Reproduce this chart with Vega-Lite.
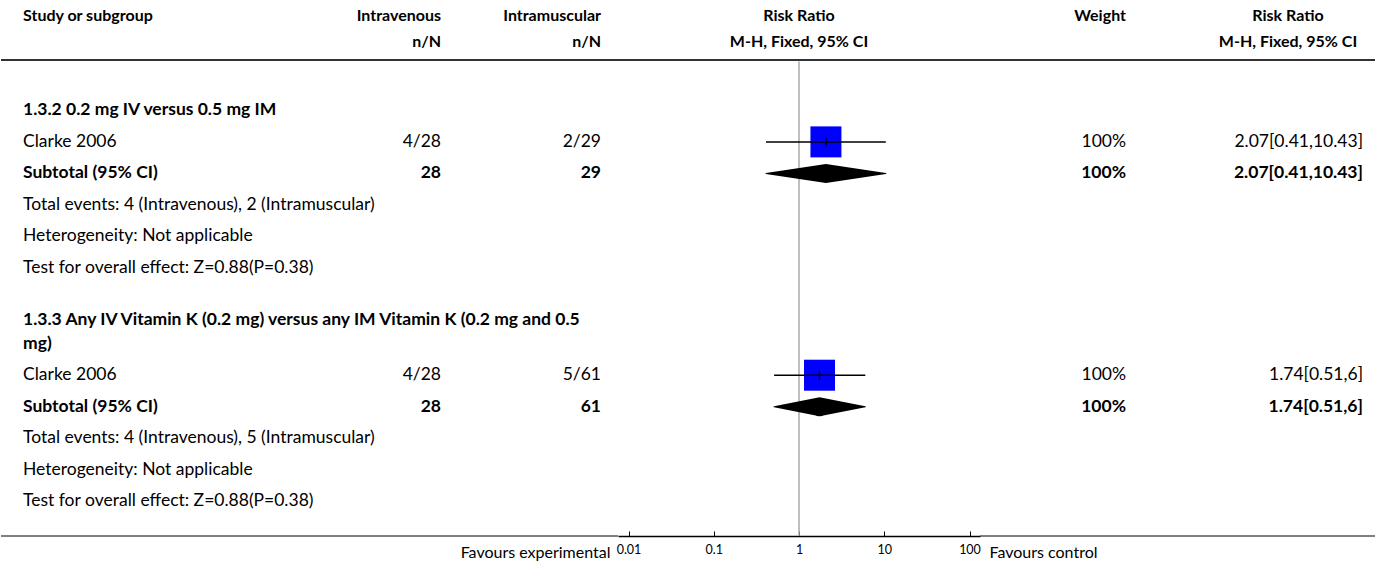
{
  "$schema": "https://vega.github.io/schema/vega-lite/v6.json",
  "padding": 0,
  "background": "white",
  "bounds": "flush",
  "spacing": 0,
  "config": {
    "view": {"stroke": null},
    "font": "Lato",
    "text": {"font": "Lato", "fontSize": 17.5, "color": "#000"}
  },
  "datasets": {
    "one": [{"id": 1}],
    "headers": [
      {"col": "study", "row": 0, "text": "Study or subgroup"},
      {"col": "iv", "row": 0, "text": "Intravenous\nn/N"},
      {"col": "im", "row": 0, "text": "Intramuscular\nn/N"},
      {"col": "plot", "row": 0, "text": "Risk Ratio\nM-H, Fixed, 95% CI"},
      {"col": "weight", "row": 0, "text": "Weight"},
      {"col": "ci", "row": 0, "text": "Risk Ratio\nM-H, Fixed, 95% CI"}
    ],
    "favours": [
      {"side": "left", "label": "Favours experimental"},
      {"side": "right", "label": "Favours control"}
    ],
    "rows": [
      {"row": 3, "kind": "group", "study": "1.3.2 0.2 mg IV versus 0.5 mg IM"},
      {"row": 4, "kind": "study", "study": "Clarke 2006", "iv": "4/28", "im": "2/29", "weight": "100%", "ci": "2.07[0.41,10.43]", "rr": 2.07, "lo": 0.41, "hi": 10.43},
      {"row": 5, "kind": "subtotal", "study": "Subtotal (95% CI)", "iv": "28", "im": "29", "weight": "100%", "ci": "2.07[0.41,10.43]", "rr": 2.07, "lo": 0.41, "hi": 10.43},
      {"row": 6, "kind": "note", "study": "Total events: 4 (Intravenous), 2 (Intramuscular)"},
      {"row": 7, "kind": "note", "study": "Heterogeneity: Not applicable"},
      {"row": 8, "kind": "note", "study": "Test for overall effect: Z=0.88(P=0.38)"},
      {"row": 9.65, "kind": "group", "study": "1.3.3 Any IV Vitamin K (0.2 mg) versus any IM Vitamin K (0.2 mg and 0.5\nmg)"},
      {"row": 11.4, "kind": "study", "study": "Clarke 2006", "iv": "4/28", "im": "5/61", "weight": "100%", "ci": "1.74[0.51,6]", "rr": 1.74, "lo": 0.51, "hi": 6},
      {"row": 12.4, "kind": "subtotal", "study": "Subtotal (95% CI)", "iv": "28", "im": "61", "weight": "100%", "ci": "1.74[0.51,6]", "rr": 1.74, "lo": 0.51, "hi": 6},
      {"row": 13.4, "kind": "note", "study": "Total events: 4 (Intravenous), 5 (Intramuscular)"},
      {"row": 14.4, "kind": "note", "study": "Heterogeneity: Not applicable"},
      {"row": 15.4, "kind": "note", "study": "Test for overall effect: Z=0.88(P=0.38)"}
    ]
  },
  "hconcat": [
    {
      "width": 330, "height": 536,
      "layer": [
        {"data": {"name": "headers"}, "transform": [{"filter": "datum.col == 'study'"}],
         "mark": {"type": "text", "align": "left", "baseline": "middle", "fontWeight": "bold", "fontSize": 16, "dx": 22},
         "encoding": {"x": {"value": 0}, "y": {"field": "row", "type": "quantitative", "scale": {"domain": [-0.5, 16.5], "reverse": true, "nice": false, "zero": false}, "axis": null}, "text": {"field": "text"}}},
        {"data": {"name": "rows"}, "transform": [{"filter": "datum.kind == 'study' || datum.kind == 'note'"}],
         "mark": {"type": "text", "align": "left", "baseline": "middle", "dx": 22},
         "encoding": {"x": {"value": 0}, "y": {"field": "row", "type": "quantitative", "scale": {"domain": [-0.5, 16.5], "reverse": true, "nice": false, "zero": false}, "axis": null}, "text": {"field": "study"}}},
        {"data": {"name": "rows"}, "transform": [{"filter": "datum.kind == 'group' || datum.kind == 'subtotal'"}],
         "mark": {"type": "text", "align": "left", "baseline": "middle", "fontWeight": "bold", "dx": 22, "lineBreak": "\n", "lineHeight": 24},
         "encoding": {"x": {"value": 0}, "y": {"field": "row", "type": "quantitative", "scale": {"domain": [-0.5, 16.5], "reverse": true, "nice": false, "zero": false}, "axis": null}, "text": {"field": "study"}}},
        {"data": {"name": "one"}, "mark": {"type": "rule", "color": "#333", "strokeWidth": 2},
         "encoding": {"y": {"datum": 1.4, "type": "quantitative", "scale": {"domain": [-0.5, 16.5], "reverse": true, "nice": false, "zero": false}, "axis": null}}},
        {"data": {"name": "one"}, "mark": {"type": "rule", "color": "#000", "strokeWidth": 1},
         "encoding": {"y": {"datum": 16.5, "type": "quantitative", "scale": {"domain": [-0.5, 16.5], "reverse": true, "nice": false, "zero": false}, "axis": null}}}
      ]
    },
    {
      "width": 110, "height": 536,
      "layer": [
        {"data": {"name": "headers"}, "transform": [{"filter": "datum.col == 'iv'"}],
         "mark": {"type": "text", "align": "right", "baseline": "middle", "fontWeight": "bold", "fontSize": 16, "lineBreak": "\n", "lineHeight": 26},
         "encoding": {"x": {"value": "width"}, "y": {"field": "row", "type": "quantitative", "scale": {"domain": [-0.5, 16.5], "reverse": true, "nice": false, "zero": false}, "axis": null}, "text": {"field": "text"}}},
        {"data": {"name": "rows"}, "transform": [{"filter": "datum.kind == 'study'"}],
         "mark": {"type": "text", "align": "right", "baseline": "middle"},
         "encoding": {"x": {"value": "width"}, "y": {"field": "row", "type": "quantitative", "scale": {"domain": [-0.5, 16.5], "reverse": true, "nice": false, "zero": false}, "axis": null}, "text": {"field": "iv"}}},
        {"data": {"name": "rows"}, "transform": [{"filter": "datum.kind == 'subtotal'"}],
         "mark": {"type": "text", "align": "right", "baseline": "middle", "fontWeight": "bold"},
         "encoding": {"x": {"value": "width"}, "y": {"field": "row", "type": "quantitative", "scale": {"domain": [-0.5, 16.5], "reverse": true, "nice": false, "zero": false}, "axis": null}, "text": {"field": "iv"}}},
        {"data": {"name": "one"}, "mark": {"type": "rule", "color": "#333", "strokeWidth": 2},
         "encoding": {"y": {"datum": 1.4, "type": "quantitative", "scale": {"domain": [-0.5, 16.5], "reverse": true, "nice": false, "zero": false}, "axis": null}}},
        {"data": {"name": "one"}, "mark": {"type": "rule", "color": "#000", "strokeWidth": 1},
         "encoding": {"y": {"datum": 16.5, "type": "quantitative", "scale": {"domain": [-0.5, 16.5], "reverse": true, "nice": false, "zero": false}, "axis": null}}}
      ]
    },
    {
      "width": 177, "height": 536,
      "layer": [
        {"data": {"name": "headers"}, "transform": [{"filter": "datum.col == 'im'"}],
         "mark": {"type": "text", "align": "right", "baseline": "middle", "fontWeight": "bold", "fontSize": 16, "lineBreak": "\n", "lineHeight": 26, "dx": -17},
         "encoding": {"x": {"value": "width"}, "y": {"field": "row", "type": "quantitative", "scale": {"domain": [-0.5, 16.5], "reverse": true, "nice": false, "zero": false}, "axis": null}, "text": {"field": "text"}}},
        {"data": {"name": "rows"}, "transform": [{"filter": "datum.kind == 'study'"}],
         "mark": {"type": "text", "align": "right", "baseline": "middle", "dx": -17},
         "encoding": {"x": {"value": "width"}, "y": {"field": "row", "type": "quantitative", "scale": {"domain": [-0.5, 16.5], "reverse": true, "nice": false, "zero": false}, "axis": null}, "text": {"field": "im"}}},
        {"data": {"name": "rows"}, "transform": [{"filter": "datum.kind == 'subtotal'"}],
         "mark": {"type": "text", "align": "right", "baseline": "middle", "fontWeight": "bold", "dx": -17},
         "encoding": {"x": {"value": "width"}, "y": {"field": "row", "type": "quantitative", "scale": {"domain": [-0.5, 16.5], "reverse": true, "nice": false, "zero": false}, "axis": null}, "text": {"field": "im"}}},
        {"data": {"name": "one"}, "mark": {"type": "rule", "color": "#333", "strokeWidth": 2},
         "encoding": {"y": {"datum": 1.4, "type": "quantitative", "scale": {"domain": [-0.5, 16.5], "reverse": true, "nice": false, "zero": false}, "axis": null}}},
        {"data": {"name": "one"}, "mark": {"type": "rule", "color": "#000", "strokeWidth": 1},
         "encoding": {"y": {"datum": 16.5, "type": "quantitative", "scale": {"domain": [-0.5, 16.5], "reverse": true, "nice": false, "zero": false}, "axis": null}}}
      ]
    },
    {
      "width": 362, "height": 536,
      "layer": [
        {"data": {"name": "one"}, "mark": {"type": "rule", "color": "#333", "strokeWidth": 2},
         "encoding": {"y": {"datum": 1.4, "type": "quantitative", "scale": {"domain": [-0.5, 16.5], "reverse": true, "nice": false, "zero": false}, "axis": null}}},
        {"data": {"name": "one"}, "mark": {"type": "rule", "color": "#aaa", "strokeWidth": 1.5},
         "encoding": {
           "x": {"datum": 1, "type": "quantitative", "scale": {"type": "log", "domain": [0.01, 100], "padding": 10.5, "nice": false},
                 "axis": {"values": [0.01, 0.1, 1, 10, 100], "format": "~g", "title": null, "grid": false, "domainColor": "#000", "domainWidth": 1.5, "tickColor": "#000", "tickWidth": 1, "tickSize": -5, "labelFont": "Lato", "labelFontSize": 12.5, "labelColor": "#000", "labelPadding": 12, "labelFlush": false}},
           "y": {"datum": 1.45, "type": "quantitative", "scale": {"domain": [-0.5, 16.5], "reverse": true, "nice": false, "zero": false}, "axis": null},
           "y2": {"datum": 16.5}}},
        {"data": {"name": "headers"}, "transform": [{"filter": "datum.col == 'plot'"}],
         "mark": {"type": "text", "align": "center", "baseline": "middle", "fontWeight": "bold", "fontSize": 16, "lineBreak": "\n", "lineHeight": 26},
         "encoding": {"x": {"datum": 1, "type": "quantitative"}, "y": {"field": "row", "type": "quantitative"}, "text": {"field": "text"}}},
        {"data": {"name": "rows"}, "transform": [{"filter": "datum.kind == 'study'"}],
         "mark": {"type": "square", "size": 961, "color": "#0000ff", "opacity": 1, "filled": true},
         "encoding": {"x": {"field": "rr", "type": "quantitative"}, "y": {"field": "row", "type": "quantitative"}}},
        {"data": {"name": "rows"}, "transform": [{"filter": "datum.kind == 'study'"}],
         "mark": {"type": "rule", "color": "#000", "strokeWidth": 1.5},
         "encoding": {"x": {"field": "lo", "type": "quantitative"}, "x2": {"field": "hi"}, "y": {"field": "row", "type": "quantitative"}}},
        {"data": {"name": "rows"}, "transform": [{"filter": "datum.kind == 'study'"}],
         "mark": {"type": "tick", "orient": "vertical", "color": "#000", "size": 9, "thickness": 1.5, "opacity": 1},
         "encoding": {"x": {"field": "rr", "type": "quantitative"}, "y": {"field": "row", "type": "quantitative"}}},
        {"data": {"name": "rows"}, "transform": [{"filter": "datum.kind == 'subtotal'"}, {"fold": ["lo", "rr", "hi"], "as": ["pt", "val"]}],
         "mark": {"type": "trail", "color": "#000", "opacity": 1},
         "encoding": {"x": {"field": "val", "type": "quantitative"}, "y": {"field": "row", "type": "quantitative"}, "detail": {"field": "row"},
                      "size": {"condition": {"test": "datum.pt == 'rr'", "value": 19}, "value": 0}}},
        {"data": {"name": "favours"}, "transform": [{"filter": "datum.side == 'left'"}],
         "mark": {"type": "text", "align": "right", "baseline": "middle", "fontSize": 16, "dx": -18},
         "encoding": {"x": {"datum": 0.01, "type": "quantitative"}, "y": {"datum": 17.05, "type": "quantitative"}, "text": {"field": "label"}}},
        {"data": {"name": "favours"}, "transform": [{"filter": "datum.side == 'right'"}],
         "mark": {"type": "text", "align": "left", "baseline": "middle", "fontSize": 16, "dx": 20},
         "encoding": {"x": {"datum": 100, "type": "quantitative"}, "y": {"datum": 17.05, "type": "quantitative"}, "text": {"field": "label"}}}
      ]
    },
    {
      "width": 146, "height": 536,
      "layer": [
        {"data": {"name": "headers"}, "transform": [{"filter": "datum.col == 'weight'"}],
         "mark": {"type": "text", "align": "right", "baseline": "middle", "fontWeight": "bold", "fontSize": 16},
         "encoding": {"x": {"value": "width"}, "y": {"field": "row", "type": "quantitative", "scale": {"domain": [-0.5, 16.5], "reverse": true, "nice": false, "zero": false}, "axis": null}, "text": {"field": "text"}}},
        {"data": {"name": "rows"}, "transform": [{"filter": "datum.kind == 'study'"}],
         "mark": {"type": "text", "align": "right", "baseline": "middle"},
         "encoding": {"x": {"value": "width"}, "y": {"field": "row", "type": "quantitative", "scale": {"domain": [-0.5, 16.5], "reverse": true, "nice": false, "zero": false}, "axis": null}, "text": {"field": "weight"}}},
        {"data": {"name": "rows"}, "transform": [{"filter": "datum.kind == 'subtotal'"}],
         "mark": {"type": "text", "align": "right", "baseline": "middle", "fontWeight": "bold"},
         "encoding": {"x": {"value": "width"}, "y": {"field": "row", "type": "quantitative", "scale": {"domain": [-0.5, 16.5], "reverse": true, "nice": false, "zero": false}, "axis": null}, "text": {"field": "weight"}}},
        {"data": {"name": "one"}, "mark": {"type": "rule", "color": "#333", "strokeWidth": 2},
         "encoding": {"y": {"datum": 1.4, "type": "quantitative", "scale": {"domain": [-0.5, 16.5], "reverse": true, "nice": false, "zero": false}, "axis": null}}},
        {"data": {"name": "one"}, "mark": {"type": "rule", "color": "#000", "strokeWidth": 1},
         "encoding": {"y": {"datum": 16.5, "type": "quantitative", "scale": {"domain": [-0.5, 16.5], "reverse": true, "nice": false, "zero": false}, "axis": null}}}
      ]
    },
    {
      "width": 250, "height": 536,
      "layer": [
        {"data": {"name": "headers"}, "transform": [{"filter": "datum.col == 'ci'"}],
         "mark": {"type": "text", "align": "center", "baseline": "middle", "fontWeight": "bold", "fontSize": 16, "lineBreak": "\n", "lineHeight": 26, "dx": -88},
         "encoding": {"x": {"value": "width"}, "y": {"field": "row", "type": "quantitative", "scale": {"domain": [-0.5, 16.5], "reverse": true, "nice": false, "zero": false}, "axis": null}, "text": {"field": "text"}}},
        {"data": {"name": "rows"}, "transform": [{"filter": "datum.kind == 'study'"}],
         "mark": {"type": "text", "align": "right", "baseline": "middle", "dx": -13},
         "encoding": {"x": {"value": "width"}, "y": {"field": "row", "type": "quantitative", "scale": {"domain": [-0.5, 16.5], "reverse": true, "nice": false, "zero": false}, "axis": null}, "text": {"field": "ci"}}},
        {"data": {"name": "rows"}, "transform": [{"filter": "datum.kind == 'subtotal'"}],
         "mark": {"type": "text", "align": "right", "baseline": "middle", "fontWeight": "bold", "dx": -13},
         "encoding": {"x": {"value": "width"}, "y": {"field": "row", "type": "quantitative", "scale": {"domain": [-0.5, 16.5], "reverse": true, "nice": false, "zero": false}, "axis": null}, "text": {"field": "ci"}}},
        {"data": {"name": "one"}, "mark": {"type": "rule", "color": "#333", "strokeWidth": 2},
         "encoding": {"y": {"datum": 1.4, "type": "quantitative", "scale": {"domain": [-0.5, 16.5], "reverse": true, "nice": false, "zero": false}, "axis": null}}},
        {"data": {"name": "one"}, "mark": {"type": "rule", "color": "#000", "strokeWidth": 1},
         "encoding": {"y": {"datum": 16.5, "type": "quantitative", "scale": {"domain": [-0.5, 16.5], "reverse": true, "nice": false, "zero": false}, "axis": null}}}
      ]
    }
  ]
}
